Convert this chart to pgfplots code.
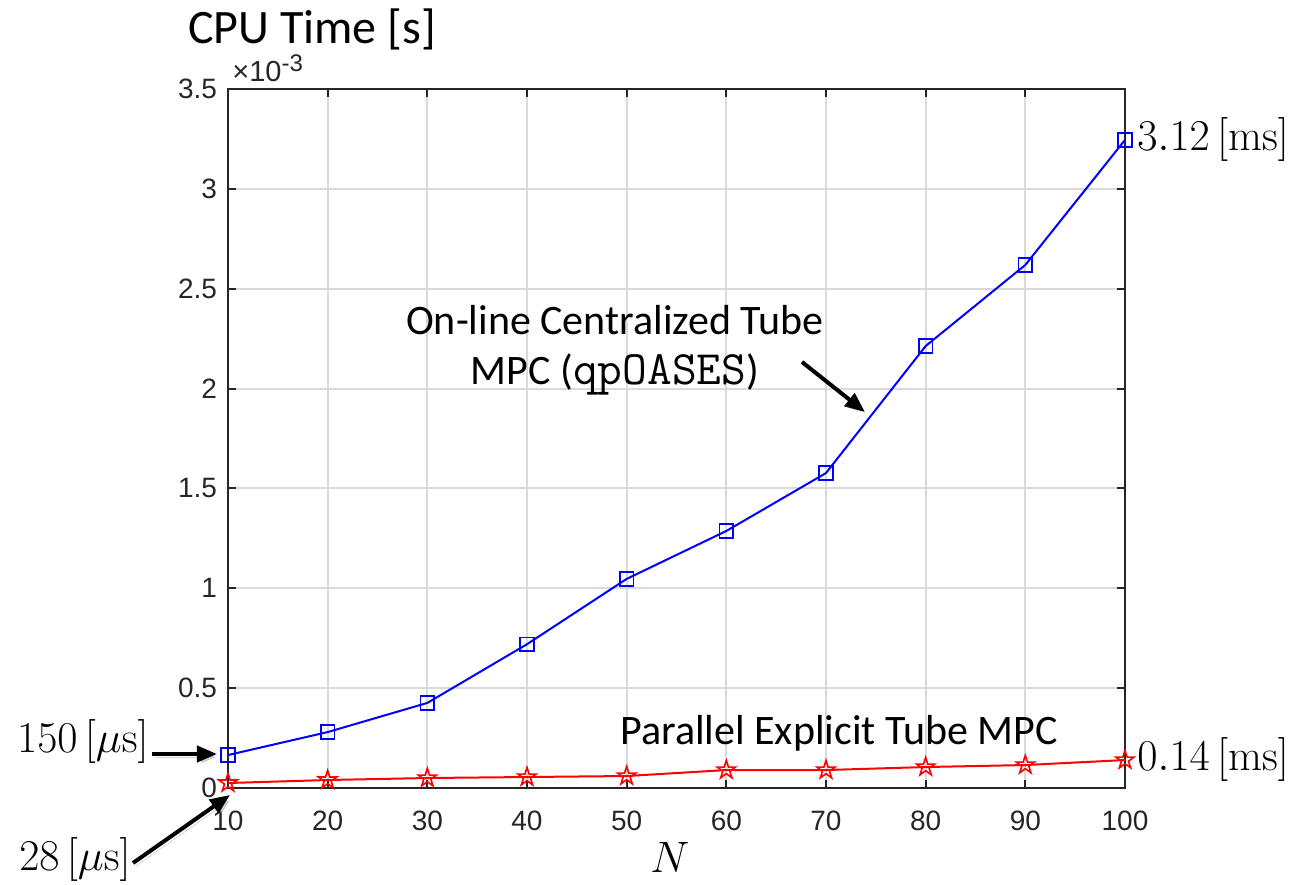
\documentclass[border=0pt]{standalone}
\usepackage{graphicx}
\usepackage[no-math]{fontspec}
\usepackage{pgfplots}
\pgfplotsset{compat=1.18}
\usetikzlibrary{arrows.meta}
\setmainfont{Carlito}
\newfontfamily\arialfont{Liberation Sans}
\definecolor{axgray}{RGB}{38,38,38}
\definecolor{gridgray}{RGB}{218,218,218}
\newcommand{\cmlab}[1]{\scalebox{1.06}{\fontsize{20.74}{21}\selectfont$#1$}}

% MATLAB-like pentagram marker
\pgfdeclareplotmark{pentagram}{%
  \pgfpathmoveto{\pgfpointpolar{90}{\pgfplotmarksize}}%
  \pgfpathlineto{\pgfpointpolar{126}{0.382*\pgfplotmarksize}}%
  \pgfpathlineto{\pgfpointpolar{162}{\pgfplotmarksize}}%
  \pgfpathlineto{\pgfpointpolar{198}{0.382*\pgfplotmarksize}}%
  \pgfpathlineto{\pgfpointpolar{234}{\pgfplotmarksize}}%
  \pgfpathlineto{\pgfpointpolar{270}{0.382*\pgfplotmarksize}}%
  \pgfpathlineto{\pgfpointpolar{306}{\pgfplotmarksize}}%
  \pgfpathlineto{\pgfpointpolar{342}{0.382*\pgfplotmarksize}}%
  \pgfpathlineto{\pgfpointpolar{18}{\pgfplotmarksize}}%
  \pgfpathlineto{\pgfpointpolar{54}{0.382*\pgfplotmarksize}}%
  \pgfpathclose
  \pgfusepathqstroke
}

\tikzset{callout/.style={-{Triangle[length=10pt,width=8pt]}, line width=2pt,
  preaction={draw=black!35, opacity=0.5, transform canvas={shift={(1.5pt,-1.5pt)}}}}}

\begin{document}
\begin{tikzpicture}
\begin{axis}[
  scale only axis, width=448.5pt, height=349.5pt,
  xmin=10, xmax=100, ymin=0, ymax=3.5,
  xtick={10,20,...,100}, ytick={0,0.5,...,3.5},
  grid=major, major grid style={gridgray, line width=1pt},
  axis line style={axgray, line width=1pt},
  tick style={axgray, line width=1pt}, major tick length=4pt,
  tick label style={font=\arialfont\fontsize{14}{14}\selectfont, text=axgray},
  xticklabel style={yshift=-8pt},
  yticklabel style={xshift=-2pt},
  /pgf/number format/assume math mode=true,
  clip=false,
]
\addplot[blue, line width=1pt, mark=square, mark size=3.4pt, mark options={line width=0.8pt}]
  coordinates {(10,0.165) (20,0.28) (30,0.426) (40,0.72) (50,1.047) (60,1.287) (70,1.577) (80,2.213) (90,2.619) (100,3.245)};
\addplot[red, line width=1pt, mark=pentagram, mark size=4.8pt, mark options={line width=0.8pt}]
  coordinates {(10,0.025) (20,0.04) (30,0.05) (40,0.055) (50,0.06) (60,0.09) (70,0.09) (80,0.105) (90,0.115) (100,0.14)};
\end{axis}
\begin{scope}[x=0.5pt, y=-0.5pt, shift={(-228,-788)}]
  \node[font=\fontsize{24}{24}\selectfont] at (312,29) {CPU Time [s]};
  \node[font=\arialfont\fontsize{14.5}{14.5}\selectfont, text=axgray, anchor=base west, inner sep=0pt] at (232,82)
    {×10\raisebox{5pt}{\fontsize{12}{12}\selectfont -3}};
  \node[font=\fontsize{21}{25}\selectfont, align=center] at (615,350)
    {On-line Centralized Tube\\MPC ({\ttfamily\fontsize{24}{25}\selectfont qpOASES})};
  \node[font=\fontsize{21}{21}\selectfont] at (839,733) {Parallel Explicit Tube MPC};
  \node[anchor=west, inner sep=0pt] at (1137,140) {\cmlab{3.12\,[\mathrm{ms}]}};
  \node[anchor=west, inner sep=0pt] at (1137,760) {\cmlab{0.14\,[\mathrm{ms}]}};
  \node[anchor=east, inner sep=0pt] at (149,742) {\cmlab{150\,[\mu\mathrm{s}]}};
  \node[anchor=east, inner sep=0pt] at (131,860) {\cmlab{28\,[\mu\mathrm{s}]}};
  \node at (670,857) {\cmlab{N}};
  \draw[callout] (152,754) -- (217,754);
  \draw[callout] (133,863) -- (230,795);
  \draw[callout] (802,362) -- (865,412);
  \pgfresetboundingbox
  \path (0,0) rectangle (1306,884);
\end{scope}
\end{tikzpicture}
\end{document}
